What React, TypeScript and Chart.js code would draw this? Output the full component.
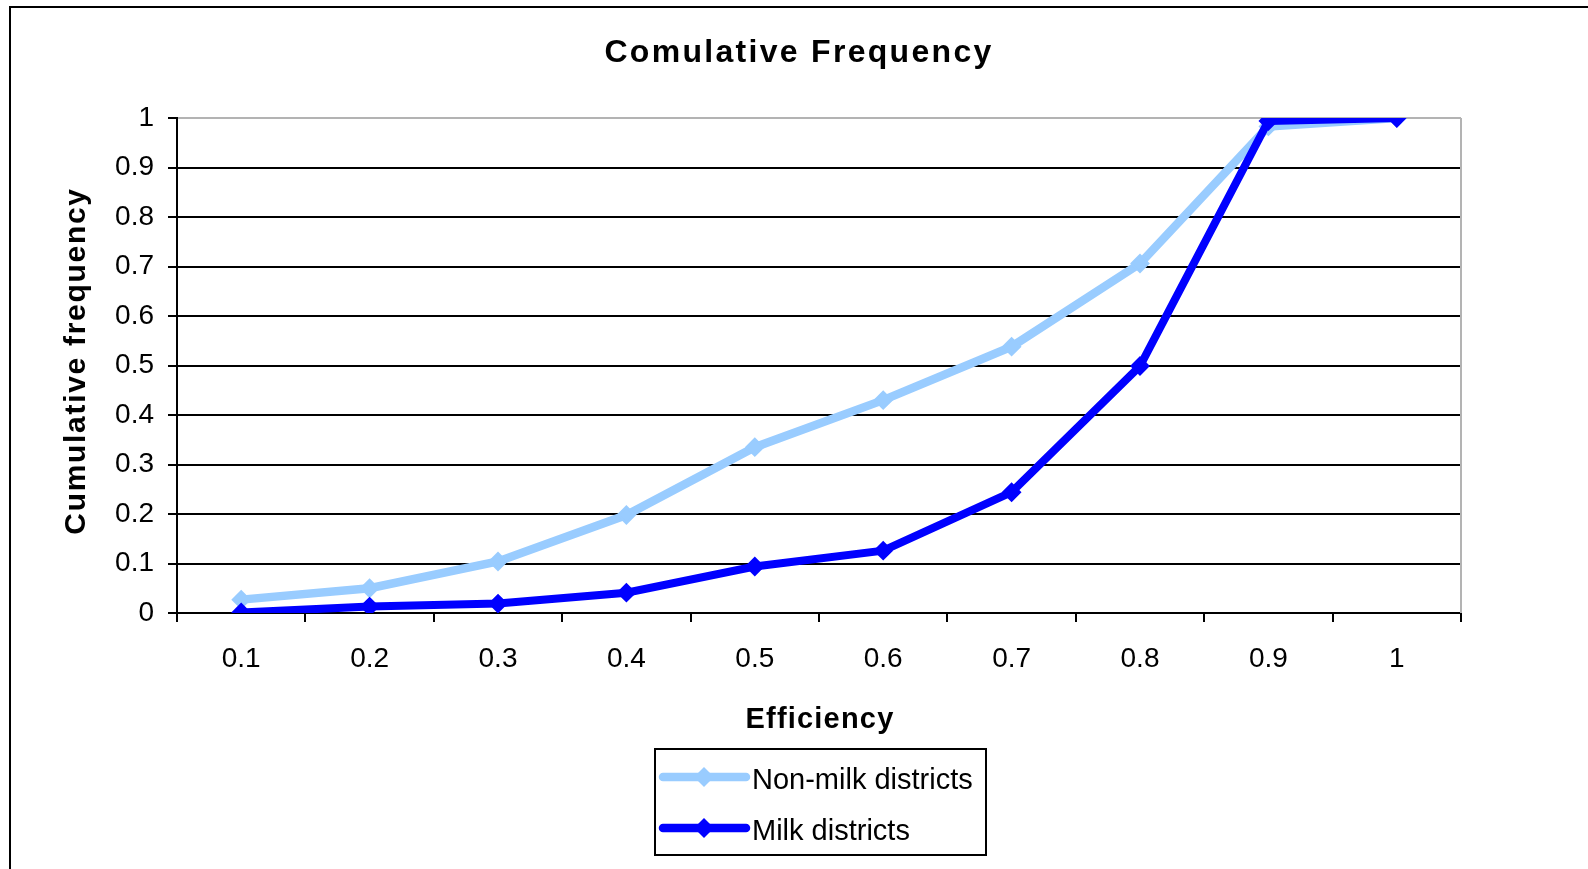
import React, { useEffect, useRef } from "react";
import { Chart, registerables } from "chart.js";

Chart.register(...registerables);

const categories = ["0.1", "0.2", "0.3", "0.4", "0.5", "0.6", "0.7", "0.8", "0.9", "1"];
const nonMilk = [0.027, 0.05, 0.104, 0.198, 0.335, 0.43, 0.538, 0.706, 0.983, 1.0];
const milk = [0.001, 0.013, 0.019, 0.041, 0.094, 0.126, 0.244, 0.499, 0.994, 1.0];
const seriesNames = ["Non-milk districts", "Milk districts"];
const seriesColors = ["#99CCFF", "#0000FF"];
const chartTitle = "Comulative Frequency";
const xTitle = "Efficiency";
const yTitle = "Cumulative frequency";

const FONT = '"Liberation Sans", Arial, sans-serif';

export default function App() {
  const ref = useRef<HTMLCanvasElement | null>(null);

  useEffect(() => {
    document.body.style.margin = "0";
    const canvas = ref.current!;
    const decor = {
      id: "decor",
      beforeDatasetsDraw(chart: any) {
        const { ctx, chartArea } = chart;
        ctx.save();
        ctx.strokeStyle = "#b3b3b3";
        ctx.lineWidth = 2;
        ctx.beginPath();
        ctx.moveTo(chartArea.right, chartArea.top);
        ctx.lineTo(chartArea.right, chartArea.bottom);
        ctx.stroke();
        ctx.restore();
      },
      afterDraw(chart: any) {
        const { ctx } = chart;
        ctx.save();
        // outer frame
        ctx.strokeStyle = "#000";
        ctx.lineWidth = 2;
        ctx.strokeRect(10, 7, 3000, 3000);
        ctx.fillStyle = "#000";
        // title
        ctx.font = `bold 32px ${FONT}`;
        (ctx as any).letterSpacing = "2.3px";
        ctx.textAlign = "center";
        ctx.textBaseline = "alphabetic";
        ctx.fillText(chartTitle, 799, 62);
        // x title
        ctx.font = `bold 29px ${FONT}`;
        (ctx as any).letterSpacing = "1.2px";
        ctx.fillText(xTitle, 820, 728);
        // y title
        ctx.save();
        (ctx as any).letterSpacing = "1.7px";
        ctx.font = `bold 30px ${FONT}`;
        ctx.translate(85, 361);
        ctx.rotate(-Math.PI / 2);
        ctx.fillText(yTitle, 0, 0);
        ctx.restore();
        // legend
        (ctx as any).letterSpacing = "0px";
        ctx.lineWidth = 2;
        ctx.strokeStyle = "#000";
        ctx.strokeRect(655, 749, 331, 106);
        const rows = [777, 828];
        chart.data.datasets.forEach((ds: any, i: number) => {
          const y = rows[i];
          ctx.strokeStyle = ds.borderColor;
          ctx.lineWidth = 8.5;
          ctx.lineCap = "round";
          ctx.beginPath();
          ctx.moveTo(663, y);
          ctx.lineTo(746, y);
          ctx.stroke();
          ctx.fillStyle = ds.borderColor;
          ctx.beginPath();
          const cx = 704, r = 10;
          ctx.moveTo(cx - r, y);
          ctx.lineTo(cx, y - r);
          ctx.lineTo(cx + r, y);
          ctx.lineTo(cx, y + r);
          ctx.closePath();
          ctx.fill();
          ctx.fillStyle = "#000";
          ctx.font = `29px ${FONT}`;
          ctx.textAlign = "left";
          ctx.fillText(ds.label, 752, y + 12);
        });
        ctx.restore();
      },
    };

    const chart = new Chart(canvas, {
      type: "line",
      data: {
        labels: categories,
        datasets: [
          {
            label: seriesNames[0],
            data: nonMilk,
            borderColor: seriesColors[0],
            backgroundColor: seriesColors[0],
            borderWidth: 8.5,
            pointStyle: "rectRot",
            pointRadius: 8.5,
            pointBorderWidth: 2,
            tension: 0,
            order: 1,
          },
          {
            label: seriesNames[1],
            data: milk,
            borderColor: seriesColors[1],
            backgroundColor: seriesColors[1],
            borderWidth: 8,
            pointStyle: "rectRot",
            pointRadius: 8.5,
            pointBorderWidth: 2,
            tension: 0,
            order: 0,
          },
        ],
      },
      options: {
        responsive: false,
        animation: false,
        layout: { padding: { left: 0, top: 118, right: 127, bottom: 0 } },
        plugins: {
          legend: { display: false },
          title: { display: false },
          tooltip: { enabled: false },
        },
        scales: {
          x: {
            type: "category",
            offset: true,
            grid: {
              offset: true,
              drawOnChartArea: false,
              color: "#000",
              lineWidth: 2,
              tickLength: 9,
            },
            border: { display: true, color: "#000", width: 2 },
            ticks: {
              color: "#000",
              font: { family: FONT, size: 28 },
              padding: 20,
              maxRotation: 0,
            },
            afterFit(scale: any) {
              scale.height = 256;
            },
          },
          y: {
            min: 0,
            max: 1,
            grid: {
              color: (c: any) => (c.tick && c.tick.value >= 0.999 ? "#b3b3b3" : "#000"),
              tickColor: "#000",
              lineWidth: 2,
              tickLength: 9,
            },
            border: { display: true, color: "#000", width: 2 },
            ticks: {
              stepSize: 0.1,
              color: "#000",
              font: { family: FONT, size: 28 },
              padding: 14,
              callback: (v: any) => String(Math.round(Number(v) * 10) / 10),
            },
            afterFit(scale: any) {
              scale.width = 177;
            },
          },
        },
      },
      plugins: [decor],
    });
    return () => chart.destroy();
  }, []);

  return (
    <div style={{ position: "fixed", left: 0, top: 0, width: 1588, height: 869, background: "#fff" }}>
      <canvas ref={ref} width={1588} height={869} style={{ display: "block" }} />
    </div>
  );
}
